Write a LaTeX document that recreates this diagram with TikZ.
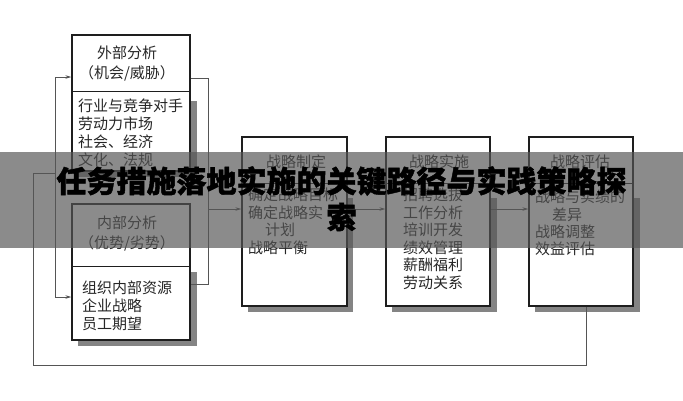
\documentclass[tikz,border=0pt]{standalone}
\usepackage{fontspec}
\setmainfont{Noto Sans CJK SC}
\newfontfamily\cjk{Noto Sans CJK SC}
\newfontfamily\cjktitle{Noto Sans CJK SC}[BoldFeatures={FakeBold=1.5}]
\usetikzlibrary{arrows.meta,calc}
\definecolor{bannerc}{RGB}{85,85,85}
\definecolor{linec}{RGB}{85,85,85}
\definecolor{boxc}{RGB}{30,30,30}
\definecolor{shadowc}{RGB}{132,132,132}
\tikzset{
  box/.style={draw=boxc, line width=1.3pt, fill=white, inner sep=0pt},
  divline/.style={draw=boxc, line width=1pt},
  conn/.style={draw=linec, line width=0.8pt},
  arrowconn/.style={conn, -{Stealth[length=6pt,width=3.5pt]}},
  txt/.style={font=\cjk\fontsize{15}{17}\selectfont, text=black!85, inner sep=0pt, anchor=west},
  ctxt/.style={font=\cjk\fontsize{15}{17}\selectfont, text=black!85, inner sep=0pt},
  titlet/.style={font=\cjktitle\bfseries\fontsize{30}{34}\selectfont, text=black, inner sep=0pt}
}
\begin{document}
\begin{tikzpicture}[x=1pt,y=-1pt]
\useasboundingbox (0,0) rectangle (683,400);
\fill[white] (0,0) rectangle (683,400);

% shadows
\fill[shadowc] (78,101) rectangle (197,177);
\fill[shadowc] (78,272) rectangle (197,346);
\fill[shadowc] (248,198) rectangle (353,312);
\fill[shadowc] (392,198) rectangle (497,312);
\fill[shadowc] (535,198) rectangle (640,312);

% boxes
\node[box, minimum width=118pt, minimum height=136pt] (ext) at (131,103) {};
\node[box, minimum width=118pt, minimum height=136pt] (int) at (131,272) {};
\node[box, minimum width=105pt, minimum height=169pt] (form) at (294.5,221.5) {};
\node[box, minimum width=104pt, minimum height=169pt] (impl) at (438,221.5) {};
\node[box, minimum width=104pt, minimum height=169pt] (eval) at (581,221.5) {};

% dividers
\coordinate (d1) at (0,91);
\coordinate (d2) at (0,266);
\coordinate (d3) at (0,183);
\draw[divline] (ext.west |- d1) -- (ext.east |- d1);
\draw[divline] (int.west |- d2) -- (int.east |- d2);
\draw[divline] (form.west |- d3) -- (form.east |- d3);
\draw[divline] (impl.west |- d3) -- (impl.east |- d3);
\draw[divline] (eval.west |- d3) -- (eval.east |- d3);

% texts: external
\node[ctxt] (extt1) at (127,53) {外部分析};
\node[ctxt] (extt2) at (127,73) {（机会/威胁）};
\node[txt] (ext1) at (78,106) {行业与竞争对手};
\node[txt] (ext2) at (78,124) {劳动力市场};
\node[txt] (ext3) at (78,142) {社会、经济};
\node[txt] (ext4) at (78,160) {文化、法规};
% internal
\node[ctxt] (intt1) at (127,223) {内部分析};
\node[ctxt] (intt2) at (127,243) {（优势/劣势）};
\node[txt] (int1) at (82,288) {组织内部资源};
\node[txt] (int2) at (82,306) {企业战略};
\node[txt] (int3) at (82,324) {员工期望};
% formulation
\node[ctxt] (formt) at (296,162) {战略制定};
\node[txt] (form1) at (248,195) {确定战略目标};
\node[txt] (form2) at (248,213) {确定战略实};
\node[txt] (form3) at (265,230) {计划};
\node[txt] (form4) at (248,248) {战略平衡};
% implementation
\node[ctxt] (implt) at (439,162) {战略实施};
\node[txt] (impl1) at (403,195) {招聘选拔};
\node[txt] (impl2) at (403,213) {工作分析};
\node[txt] (impl3) at (403,230) {培训开发};
\node[txt] (impl4) at (403,248) {绩效管理};
\node[txt] (impl5) at (403,265) {薪酬福利};
\node[txt] (impl6) at (403,283) {劳动关系};
% evaluation
\node[ctxt] (evalt) at (580,162) {战略评估};
\node[txt] (eval1) at (535,197) {战略与实绩的};
\node[txt] (eval2) at (552,215) {差异};
\node[txt] (eval3) at (535,232) {战略调整};
\node[txt] (eval4) at (535,249) {效益评估};

% connectors right of left boxes
\coordinate (r1) at (208,78);
\coordinate (r2) at (208,284);
\coordinate (rj) at (208,209);
\draw[conn] (ext.east |- r1) -- (r1) -- (r2) -- (int.east |- r2);
\draw[arrowconn] (rj) -- (form.west |- rj);
\draw[arrowconn] (form.east |- rj) -- (impl.west |- rj);
\draw[arrowconn] (impl.east |- rj) -- (eval.west |- rj);

% left distribution
\coordinate (l1) at (55,77);
\coordinate (l2) at (55,297);
\coordinate (lj) at (55,173);
\draw[conn] (l1) -- (l2);
\draw[arrowconn] (l1) -- (ext.west |- l1);
\draw[arrowconn] (l2) -- (int.west |- l2);

% feedback loop
\coordinate (fbx) at (586,365);
\coordinate (fbl) at (33,365);
\coordinate (fbt) at (33,173);
\draw[conn] (eval.south -| fbx) -- (fbx) -- (fbl) -- (fbt) -- (lj);

% banner
\fill[bannerc, opacity=0.68] (0,152) rectangle (683,248);
\node[titlet] (title1) at (341.5,181) {任务措施落地实施的关键路径与实践策略探};
\node[titlet] (title2) at (341.5,217) {索};
\end{tikzpicture}
\end{document}
